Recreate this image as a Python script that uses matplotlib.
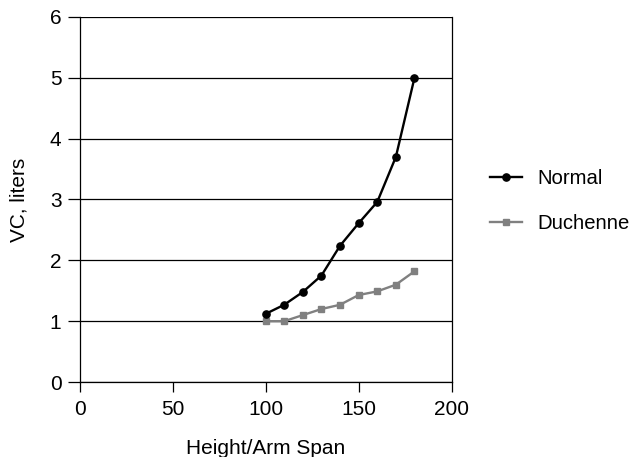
import matplotlib
matplotlib.use('Agg')
import matplotlib.pyplot as plt

# data
heights = [100, 110, 120, 130, 140, 150, 160, 170, 180]
vc_normal = [1.12, 1.27, 1.48, 1.75, 2.24, 2.61, 2.96, 3.70, 5.0]
vc_duchenne = [1.0, 1.0, 1.10, 1.20, 1.27, 1.43, 1.49, 1.60, 1.82]

plt.rcParams['font.family'] = ['Liberation Sans', 'DejaVu Sans']

fig = plt.figure(figsize=(6.33, 4.57), dpi=100)
ax = fig.add_axes([0.1256, 0.164, 0.588, 0.799])

# horizontal grid lines
for y in range(0, 7):
    ax.axhline(y, color='black', lw=0.9, zorder=1)

ax.plot(heights, vc_normal, color='black', lw=1.7, marker='o', ms=5.2,
        label='Normal', zorder=3)
ax.plot(heights, vc_duchenne, color='#808080', lw=1.7, marker='s', ms=4.8,
        label='Duchenne', zorder=2)

ax.set_xlim(0, 200)
ax.set_ylim(0, 6)
ax.set_xticks([0, 50, 100, 150, 200])
ax.set_yticks(range(0, 7))

for side in ['left', 'bottom', 'right']:
    ax.spines[side].set_linewidth(0.9)
ax.spines['top'].set_visible(False)

ax.tick_params(axis='x', direction='out', length=7, width=0.9, labelsize=15, pad=6)
ax.tick_params(axis='y', direction='out', length=9, width=0.9, labelsize=15, pad=4)

ax.set_xlabel('Height/Arm Span', fontsize=15, labelpad=14)
ax.set_ylabel('VC, liters', fontsize=15, labelpad=15)

fig.legend(loc='center left', bbox_to_anchor=(0.745, 0.56), frameon=False,
           fontsize=14.6, handlelength=1.6, handletextpad=0.75,
           labelspacing=1.25)

fig.savefig('out.png', dpi=100)
